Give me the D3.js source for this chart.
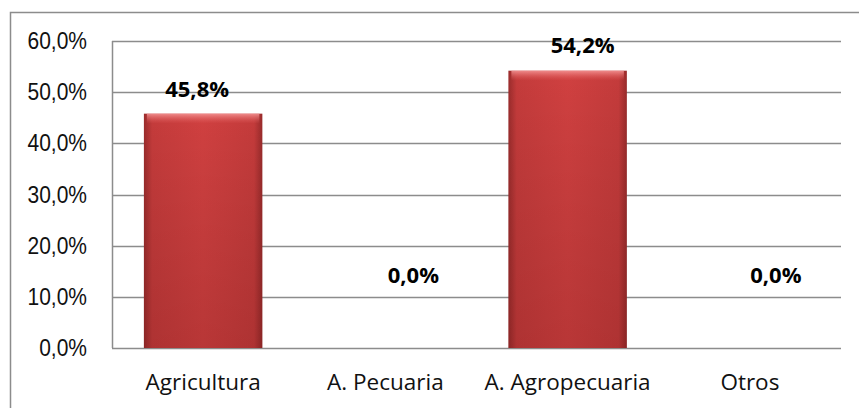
<!DOCTYPE html>
<html>
<head>
<meta charset="utf-8">
<script src="https://cdn.jsdelivr.net/npm/d3@7"></script>
<style>
  body { margin: 0; background: #fff; }
  svg { display: block; }
</style>
</head>
<body>
<div id="chart"></div>
<script>
// chart values
var categories = ["Agricultura", "A. Pecuaria", "A. Agropecuaria", "Otros"];
var values = [45.8, 0.0, 54.2, 0.0];
var yTicks = [0, 10, 20, 30, 40, 50, 60];

// label nudges as placed in the original (px)
var labelDx = [-6, 28, 15, 26];
var labelDy = [-17, -65, -18, -65];

var W = 859, H = 408;
var margin = {left: 112, right: 18, top: 41, bottom: 60};

var svg = d3.select("#chart").append("svg")
    .attr("width", W)
    .attr("height", H);

var defs = svg.append("defs");
var grad = defs.append("linearGradient")
    .attr("id", "barGrad")
    .attr("x1", "0").attr("x2", "1").attr("y1", "0").attr("y2", "0");
grad.append("stop").attr("offset", "0").attr("stop-color", "#9a2c2c");
grad.append("stop").attr("offset", "0.07").attr("stop-color", "#c43b3b");
grad.append("stop").attr("offset", "0.5").attr("stop-color", "#d04040");
grad.append("stop").attr("offset", "0.93").attr("stop-color", "#c43b3b");
grad.append("stop").attr("offset", "1").attr("stop-color", "#982b2b");

var vgrad = defs.append("linearGradient")
    .attr("id", "barShade")
    .attr("x1", "0").attr("x2", "0").attr("y1", "0").attr("y2", "1");
vgrad.append("stop").attr("offset", "0").attr("stop-color", "#000").attr("stop-opacity", 0);
vgrad.append("stop").attr("offset", "1").attr("stop-color", "#300").attr("stop-opacity", 0.15);

var bgrad = defs.append("linearGradient")
    .attr("id", "bevelGrad")
    .attr("x1", "0").attr("x2", "0").attr("y1", "0").attr("y2", "1");
bgrad.append("stop").attr("offset", "0").attr("stop-color", "#f8a0a0").attr("stop-opacity", 0.8);
bgrad.append("stop").attr("offset", "1").attr("stop-color", "#e86060").attr("stop-opacity", 0);

// outer frame
svg.append("rect")
    .attr("x", 10.5).attr("y", 12.5)
    .attr("width", W).attr("height", H)
    .attr("fill", "none")
    .attr("stroke", "#8c8c8c")
    .attr("stroke-width", 1.5);

var x = d3.scaleBand()
    .domain(categories)
    .range([margin.left, W - margin.right])
    .paddingInner(0.35)
    .paddingOuter(0.175);

var y = d3.scaleLinear()
    .domain([0, 60])
    .range([H - margin.bottom, margin.top]);

// gridlines
svg.append("g")
    .selectAll("line")
    .data(yTicks)
    .join("line")
    .attr("x1", margin.left)
    .attr("x2", W - margin.right)
    .attr("y1", function(d) { return Math.round(y(d)) + 0.5; })
    .attr("y2", function(d) { return Math.round(y(d)) + 0.5; })
    .attr("stroke", "#8c8c8c")
    .attr("stroke-width", 1.5);

// y axis line
svg.append("line")
    .attr("x1", margin.left + 0.5).attr("x2", margin.left + 0.5)
    .attr("y1", y(60)).attr("y2", y(0))
    .attr("stroke", "#8c8c8c")
    .attr("stroke-width", 1.5);

// y tick labels
svg.append("g")
    .selectAll("text")
    .data(yTicks)
    .join("text")
    .attr("transform", function(d) {
        return "translate(87," + (y(d) + 8) + ") scale(1,1.15)";
    })
    .attr("text-anchor", "end")
    .attr("font-family", "Liberation Sans, Arial, sans-serif")
    .attr("font-size", 21)
    .attr("fill", "#111")
    .text(function(d) { return d.toFixed(1).replace(".", ",") + "%"; });

// bars
var bars = svg.append("g");
bars.selectAll("rect.bar")
    .data(values)
    .join("rect")
    .attr("class", "bar")
    .attr("x", function(d, i) { return x(categories[i]); })
    .attr("y", function(d) { return y(d); })
    .attr("width", x.bandwidth())
    .attr("height", function(d) { return y(0) - y(d); })
    .attr("fill", "url(#barGrad)");
bars.selectAll("rect.shade")
    .data(values)
    .join("rect")
    .attr("class", "shade")
    .attr("x", function(d, i) { return x(categories[i]); })
    .attr("y", function(d) { return y(d); })
    .attr("width", x.bandwidth())
    .attr("height", function(d) { return y(0) - y(d); })
    .attr("fill", "url(#barShade)");
// top bevel highlight
bars.selectAll("rect.bevel")
    .data(values)
    .join("rect")
    .attr("class", "bevel")
    .attr("x", function(d, i) { return x(categories[i]) + 3; })
    .attr("y", function(d) { return y(d); })
    .attr("width", x.bandwidth() - 6)
    .attr("height", function(d) { return d > 0 ? 10 : 0; })
    .attr("fill", "url(#bevelGrad)");

// value labels
svg.append("g")
    .selectAll("text")
    .data(values)
    .join("text")
    .attr("x", function(d, i) { return x(categories[i]) + x.bandwidth() / 2 + labelDx[i]; })
    .attr("y", function(d, i) { return y(d) + labelDy[i]; })
    .attr("text-anchor", "middle")
    .attr("font-family", "Open Sans, sans-serif")
    .attr("font-weight", "bold")
    .attr("font-size", 22)
    .attr("fill", "#000")
    .text(function(d) { return d.toFixed(1).replace(".", ",") + "%"; });

// category labels
svg.append("g")
    .selectAll("text")
    .data(categories)
    .join("text")
    .attr("x", function(d) { return x(d) + x.bandwidth() / 2; })
    .attr("y", 390)
    .attr("text-anchor", "middle")
    .attr("font-family", "Open Sans, sans-serif")
    .attr("font-size", 22.5)
    .attr("fill", "#111")
    .text(function(d) { return d; });
</script>
</body>
</html>
